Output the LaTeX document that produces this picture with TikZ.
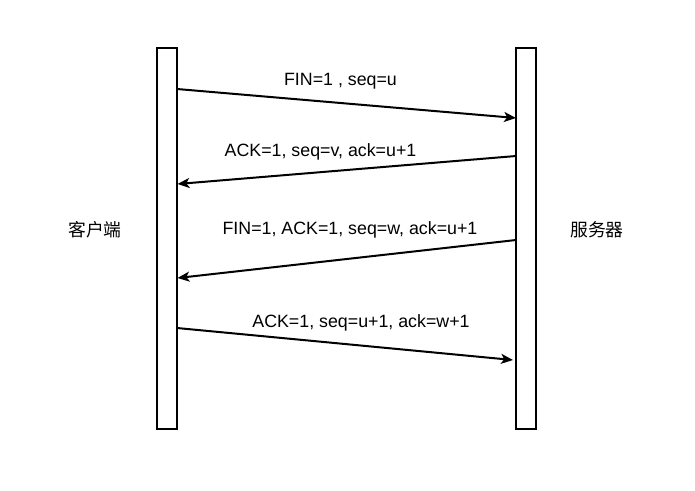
\documentclass[tikz,border=0pt]{standalone}
\usepackage{fontspec}
\setmainfont{Liberation Sans}
\newfontfamily\cjk{Noto Sans CJK SC}
\usetikzlibrary{arrows.meta}
\begin{document}
\begin{tikzpicture}[x=0.75pt,y=-0.75pt,
  lifeline/.style={draw=black,line width=1.5pt,fill=white,minimum width=19.5*0.75pt,
    minimum height=381*0.75pt,inner sep=0pt},
  msg/.style={draw=black,line width=1.5pt,
    -{Stealth[length=9pt,width=7.5pt,inset=2.4pt]}},
  lbl/.style={font=\fontsize{13.35}{16}\selectfont,anchor=base,inner sep=0pt},
  party/.style={font=\fontsize{13.35}{16}\selectfont\cjk,inner sep=0pt}]
  \useasboundingbox (0,0) rectangle (695,490);

  % lifelines
  \node[lifeline] (client) at (166.75,238.5) {};
  \node[lifeline] (server) at (526,238.5) {};

  \node[party] (clientname) at (95,230) {客户端};
  \node[party] (servername) at (597,230) {服务器};

  % message end points on the lifelines
  \coordinate (m1s) at (177,89);
  \coordinate (m1e) at (516,118);
  \coordinate (m2s) at (516,156);
  \coordinate (m2e) at (177.5,184);
  \coordinate (m3s) at (516,240);
  \coordinate (m3e) at (177.5,278);
  \coordinate (m4s) at (177,328);
  \coordinate (m4e) at (513,360);

  \draw[msg] (m1s) -- (m1e);
  \draw[msg] (m2s) -- (m2e);
  \draw[msg] (m3s) -- (m3e);
  \draw[msg] (m4s) -- (m4e);

  % message labels
  \node[lbl] (l1) at (340.5,85.3) {FIN=1 , seq=u};
  \node[lbl] (l2) at (320.5,156) {ACK=1, seq=v, ack=u+1};
  \node[lbl] (l3) at (350,234.3) {FIN=1, ACK=1, seq=w, ack=u+1};
  \node[lbl] (l4) at (361,327) {ACK=1, seq=u+1, ack=w+1};
\end{tikzpicture}
\end{document}
